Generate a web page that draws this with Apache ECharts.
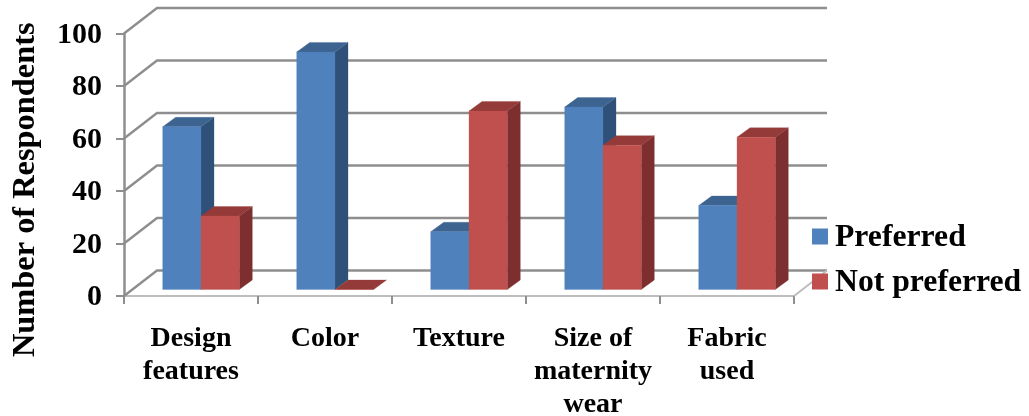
<!DOCTYPE html>
<html><head><meta charset="utf-8">
<style>html,body{margin:0;padding:0;background:#fff}#c{width:1029px;height:416px}</style>
<script src="https://cdn.jsdelivr.net/npm/echarts@6/dist/echarts.min.js"></script>
</head><body><div id="c"></div>
<script>
var categories = ["Design\nfeatures", "Color", "Texture", "Size of\nmaternity\nwear", "Fabric\nused"];
var preferred = [62, 90.5, 22, 69.5, 32];
var notPreferred = [28, 0, 68, 55, 58];
var yTicks = [0, 20, 40, 60, 80, 100];

var FONT = '"Liberation Serif","Times New Roman",serif';
var BACK = [33, -25.5], PLANE = [10, -6.5], DEPTH = [13, -9.5], BAR_W = 38.3;
var GRID = '#8e8e8e', PALE = '#bdbdbd';

function wallItem(params, api) {
  var cs = params.coordSys, y = api.coord([0, api.value(0)])[1], x0 = cs.x, x1 = cs.x + cs.width;
  var bottom = api.value(0) === 0;
  var kids = [{type: 'polyline', shape: {points: [[x0, y], [x0 + BACK[0], y + BACK[1]], [x1 + BACK[0], y + BACK[1]]]},
    style: {fill: null, stroke: GRID, lineWidth: 2.4}}];
  if (bottom) kids.push({type: 'line', shape: {x1: x1, y1: y, x2: x1 + BACK[0], y2: y + BACK[1]},
    style: {stroke: PALE, lineWidth: 2}});
  return {type: 'group', children: kids};
}
function poly(pts, c) { return {type: 'polygon', shape: {points: pts}, style: {fill: c, stroke: c, lineWidth: 0.3}}; }
function barItem(side, front, top, dark) {
  return function (params, api) {
    var t = api.coord([api.value(0), api.value(1)]), b = api.coord([api.value(0), 0]);
    var l = t[0] + PLANE[0] + (side < 0 ? -BAR_W : 0), r = l + BAR_W;
    var yt = t[1] + PLANE[1], yb = b[1] + PLANE[1], dx = DEPTH[0], dy = DEPTH[1];
    return {type: 'group', children: [
      poly([[r, yt], [r + dx, yt + dy], [r + dx, yb + dy], [r, yb]], dark),
      poly([[l, yt], [l + dx, yt + dy], [r + dx, yt + dy], [r, yt]], top),
      poly([[l, yt], [r, yt], [r, yb], [l, yb]], front)
    ]};
  };
}
var chart = echarts.init(document.getElementById('c'), null, {renderer: 'canvas'});
chart.setOption({
  animation: false,
  textStyle: {fontFamily: FONT},
  grid: {left: 124, top: 33.5, width: 670, height: 262.5, containLabel: false, outerBoundsMode: 'none'},
  legend: {
    orient: 'vertical', left: 807, top: 217, itemWidth: 16, itemHeight: 16, itemGap: 13, icon: 'rect',
    data: ['Preferred', 'Not preferred'], z: 20,
    formatter: '{t|{name}}',
    textStyle: {rich: {t: {fontFamily: FONT, fontWeight: 'bold', fontSize: 31.7, color: '#000', padding: [3, 0, 0, 2]}}}
  },
  xAxis: {
    type: 'category', data: categories,
    axisLine: {lineStyle: {color: PALE, width: 2}},
    axisTick: {show: true, length: 8, lineStyle: {color: GRID, width: 2}},
    axisLabel: {margin: 26, interval: 0, fontFamily: FONT, fontWeight: 'bold', fontSize: 28, color: '#000', lineHeight: 33}
  },
  yAxis: {
    type: 'value', min: 0, max: 100, interval: 20,
    name: 'Number of Respondents', nameLocation: 'middle', nameGap: 82, nameRotate: 90,
    nameTextStyle: {fontFamily: FONT, fontWeight: 'bold', fontSize: 32.4, color: '#000', padding: [0, 50, 0, 0]},
    axisLine: {show: true, lineStyle: {color: GRID, width: 2.5}},
    axisTick: {show: true, length: 8, lineStyle: {color: GRID, width: 2}},
    splitLine: {show: false},
    axisLabel: {margin: 22, formatter: '{t|{value}}',
      rich: {t: {fontFamily: FONT, fontWeight: 'bold', fontSize: 30, color: '#000', padding: [3, 0, 0, 0]}}}
  },
  series: [
    {type: 'custom', name: 'walls', z: 1, silent: true, clip: false, coordinateSystem: 'cartesian2d',
     data: yTicks.map(function (v) { return [v]; }), encode: {y: 0}, renderItem: wallItem},
    {type: 'custom', name: 'Preferred', z: 3, clip: false, itemStyle: {color: '#4F81BD'},
     data: preferred.map(function (v, i) { return [i, v]; }), encode: {x: 0, y: 1},
     renderItem: barItem(-1, '#4F81BD', '#3D6491', '#2F5078')},
    {type: 'custom', name: 'Not preferred', z: 4, clip: false, itemStyle: {color: '#C0504D'},
     data: notPreferred.map(function (v, i) { return [i, v]; }), encode: {x: 0, y: 1},
     renderItem: barItem(1, '#C0504D', '#943B39', '#7C2F2E')}
  ]
});
</script></body></html>
